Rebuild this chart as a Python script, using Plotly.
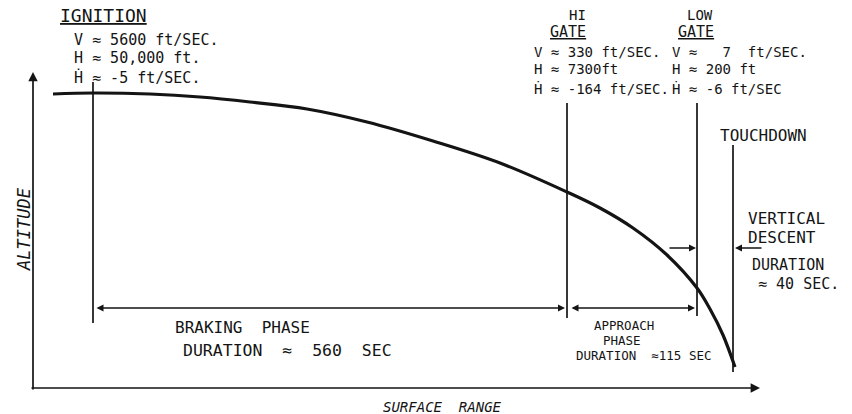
import plotly.graph_objects as go

# ---------------- data ----------------
# descent trajectory: surface range vs altitude (arbitrary drawing units)
traj_range = [20, 60, 117, 167, 217, 274, 334, 400, 467, 534, 567, 600, 634, 664, 677, 690, 702]
traj_alt = [294, 295, 294, 291, 286, 279, 266, 247, 225, 196, 180, 160, 133, 100, 79, 53, 21]

# event markers (surface range where each vertical marker sits)
event_names = ["IGNITION", "HI GATE", "LOW GATE", "TOUCHDOWN"]
event_range = [60, 534, 664, 700]
event_top = [306, 285, 285, 243]
event_bottom = [65, 70, 72, 16]

# phases
phase_names = ["BRAKING  PHASE", "APPROACH PHASE", "VERTICAL DESCENT"]
phase_duration_s = [560, 115, 40]

# state at events
ign_state = ["V ≈ 5600 ft/SEC.", "H ≈ 50,000 ft.", "Ḣ ≈ -5 ft/SEC."]
hi_state = ["V ≈ 330 ft/SEC.", "H ≈ 7300ft", "Ḣ ≈ -164 ft/SEC."]
low_state = ["V ≈   7  ft/SEC.", "H ≈ 200 ft", "Ḣ ≈ -6 ft/SEC"]

# ---------------- figure ----------------
X0, Y0 = 33, 388  # pixel position of the axis origin


def px(x):
    return x - X0


def py(y):
    return Y0 - y


INK = "#141414"
FONT = "DejaVu Sans Mono"

fig = go.Figure()

# trajectory
fig.add_trace(go.Scatter(x=traj_range, y=traj_alt, mode="lines",
                         line=dict(color=INK, width=3.2, shape="spline", smoothing=1.0),
                         hoverinfo="skip", showlegend=False))

# vertical event markers
for xr, yt, yb in zip(event_range, event_top, event_bottom):
    fig.add_trace(go.Scatter(x=[xr, xr], y=[yt, yb], mode="lines",
                             line=dict(color=INK, width=1.7),
                             hoverinfo="skip", showlegend=False))

annotations = []


def arrow(x0, y0, x1, y1, both=False, width=1.4, size=1.0):
    annotations.append(dict(x=x1, y=y1, ax=x0, ay=y0, xref="x", yref="y", axref="x", ayref="y",
                            text="", showarrow=True, arrowhead=2, arrowsize=size,
                            arrowwidth=width, arrowcolor=INK,
                            arrowside="end+start" if both else "end",
                            startarrowhead=2, startarrowsize=size))


# axes with arrows
arrow(0, -3, 0, py(72), width=1.7, size=1.1)
arrow(-3, 0, px(760), 0, width=1.7, size=1.1)

# phase arrows
braking_y = py(308)
arrow(event_range[0] + 2, braking_y, event_range[1] - 2, braking_y, both=True)
arrow(event_range[1] + 3, braking_y, event_range[2] - 2, braking_y, both=True)
vd_y = py(248)
arrow(px(668), vd_y, event_range[2] - 1, vd_y)
arrow(px(763), vd_y, event_range[3] + 2, vd_y)


def text(s, x, y, size=14, anchor="left", angle=0, italic=False):
    if italic:
        s = "<i>" + s + "</i>"
    annotations.append(dict(text=s, x=px(x), y=py(y), xref="x", yref="y",
                            xanchor=anchor, yanchor="middle", showarrow=False,
                            textangle=angle, borderpad=0,
                            font=dict(family=FONT, size=size, color=INK)))


# ignition block
text("<u>" + event_names[0] + "</u>", 59, 15, size=18)
for i, s in enumerate(ign_state):
    text(s, 73, [40, 58, 77][i], size=15)

# hi gate block
text("HI", 577, 15, size=14, anchor="center")
text("<u>GATE</u>", 568, 32, size=15, anchor="center")
for i, s in enumerate(hi_state):
    text(s, 533, [52, 69, 88][i], size=14)

# low gate block
text("LOW", 700, 15, size=14, anchor="center")
text("<u>GATE</u>", 696, 32, size=15, anchor="center")
for i, s in enumerate(low_state):
    text(s, 671, [52, 69, 88][i], size=14)

# touchdown / vertical descent
text(event_names[3], 719, 135, size=16)
text("VERTICAL", 747, 218, size=16)
text("DESCENT", 747, 237, size=16)
text("DURATION", 751, 265, size=15)
text(f"≈ {phase_duration_s[2]} SEC.", 757, 284, size=15)

# braking phase
text(phase_names[0], 174, 327, size=16)
text(f"DURATION  ≈  {phase_duration_s[0]}  SEC", 182, 350, size=16.5)

# approach phase
text("APPROACH", 624, 325, size=12.5, anchor="center")
text("PHASE", 622, 340, size=12.5, anchor="center")
text(f"DURATION  ≈{phase_duration_s[1]} SEC", 575, 355, size=12.5)

# axis titles
text("SURFACE  RANGE", 442, 407, size=14, anchor="center", italic=True)
text("<i>ALTITUDE</i>", 24, 229, size=17, anchor="center", angle=-90)

fig.update_layout(
    width=852, height=414,
    margin=dict(l=0, r=0, t=0, b=0),
    paper_bgcolor="white", plot_bgcolor="white",
    xaxis=dict(range=[px(0), px(852)], visible=False, fixedrange=True),
    yaxis=dict(range=[py(414), py(0)], visible=False, fixedrange=True),
    annotations=annotations,
    showlegend=False,
)

fig.write_html("out.html", config={"displayModeBar": False},
               post_script="document.body.style.margin='0';document.body.style.overflow='hidden';")
